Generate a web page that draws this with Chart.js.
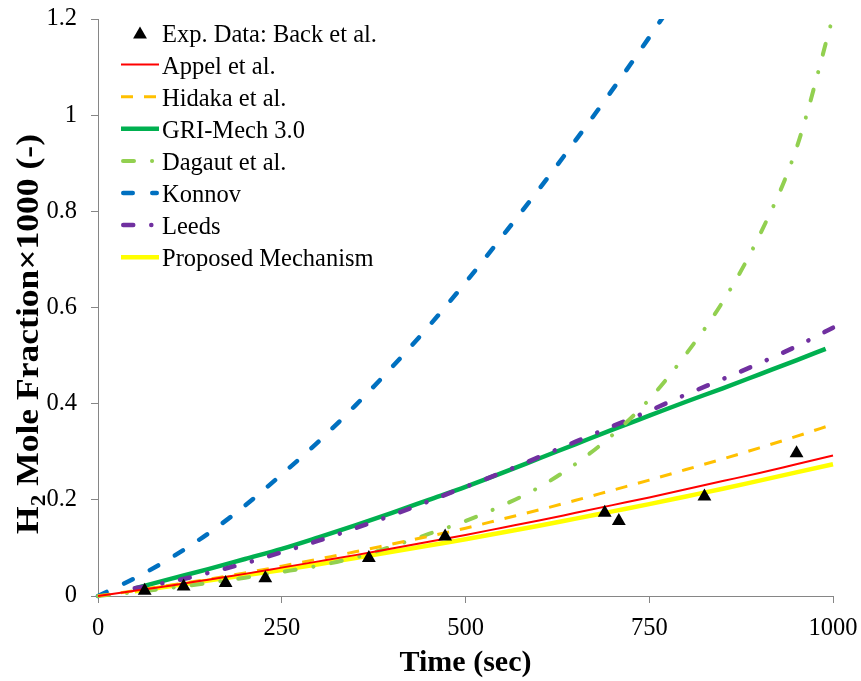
<!DOCTYPE html>
<html>
<head>
<meta charset="utf-8">
<script src="https://cdn.jsdelivr.net/npm/chart.js@4.4.0/dist/chart.umd.min.js"></script>
<style>
  html, body { margin: 0; padding: 0; background: #fff; }
  #wrap { width: 861px; height: 681px; }
</style>
</head>
<body>
<div id="wrap"><canvas id="chart" width="861" height="681"></canvas></div>
<script>
// Datos (tiempo en s, fracción molar de H2 x1000)
const timeSec = [0, 50, 100, 150, 200, 250, 300, 350, 400, 450, 500, 550, 600, 650, 700, 750, 800, 850, 900, 950, 1000];
const griTime = [50, 100, 150, 200, 250, 300, 350, 400, 450, 500, 550, 600, 650, 700, 750, 800, 850, 900, 950, 990];

const expTime = [63.5, 116.5, 173.6, 227.6, 368.5, 472.3, 689.4, 708.6, 825.1, 950.4];
const expH2 = [0.011, 0.020, 0.027, 0.037, 0.079, 0.124, 0.173, 0.156, 0.207, 0.297];

const appel = [0, 0.011, 0.022, 0.034, 0.046, 0.059, 0.072, 0.085, 0.099, 0.113, 0.127, 0.142, 0.157, 0.173, 0.189, 0.205, 0.222, 0.239, 0.256, 0.274, 0.292];
const hidaka = [0, 0.011, 0.023, 0.035, 0.048, 0.062, 0.077, 0.092, 0.108, 0.124, 0.141, 0.160, 0.179, 0.199, 0.220, 0.241, 0.263, 0.285, 0.308, 0.332, 0.357];
const gri = [0.016, 0.036, 0.056, 0.077, 0.098, 0.122, 0.147, 0.173, 0.200, 0.227, 0.256, 0.286, 0.316, 0.346, 0.375, 0.404, 0.432, 0.461, 0.490, 0.514];
const dagaut = [0, 0.008, 0.017, 0.027, 0.038, 0.050, 0.063, 0.080, 0.103, 0.129, 0.156, 0.188, 0.226, 0.275, 0.335, 0.409, 0.503, 0.612, 0.750, 0.930, 1.205];
const konnov = [0, 0.037, 0.080, 0.130, 0.188, 0.253, 0.321, 0.396, 0.476, 0.561, 0.652, 0.748, 0.846, 0.948, 1.053, 1.162, 1.275, null, null, null, null];
const leeds = [null, 0.016, 0.030, 0.048, 0.068, 0.091, 0.115, 0.141, 0.168, 0.197, 0.227, 0.257, 0.289, 0.321, 0.353, 0.385, 0.419, 0.451, 0.484, 0.519, 0.558];
const proposed = [null, 0.010, 0.021, 0.032, 0.043, 0.054, 0.066, 0.079, 0.092, 0.105, 0.118, 0.132, 0.146, 0.161, 0.176, 0.191, 0.207, 0.223, 0.240, 0.257, 0.274];

const xTicks = [0, 250, 500, 750, 1000];
const yTicks = [0, 0.2, 0.4, 0.6, 0.8, 1, 1.2];

const FONT = '"Liberation Serif", "Times New Roman", serif';
const AXIS_COLOR = '#868686';

// Convierte dos listas en puntos {x, y}
function toPoints(xs, ys) {
    return xs.map((x, i) => ({ x: x, y: ys[i] }));
}

function curve(label, xs, ys, color, width, dash, order) {
    return {
        label: label,
        data: toPoints(xs, ys),
        showLine: true,
        borderColor: color,
        backgroundColor: color,
        borderWidth: width,
        borderDash: dash,
        borderCapStyle: dash.length ? 'round' : 'butt',
        pointRadius: 0,
        cubicInterpolationMode: 'monotone',
        clip: { left: 5, right: 5, top: 0, bottom: 5 },
        order: order
    };
}

const datasets = [
    {
        label: 'Exp. Data: Back et al.',
        data: toPoints(expTime, expH2),
        showLine: false,
        pointStyle: 'triangle',
        pointRadius: 8,
        backgroundColor: '#000',
        borderColor: '#000',
        borderWidth: 0,
        order: 0
    },
    curve('Appel et al.', timeSec, appel, '#FF0000', 2, [], 1),
    Object.assign(curve('Hidaka et al.', timeSec, hidaka, '#FFC000', 3, [12, 11], 2), { borderCapStyle: 'butt' }),
    curve('GRI-Mech 3.0', griTime, gri, '#00B050', 4.5, [], 5),
    curve('Dagaut et al.', timeSec, dagaut, '#92D050', 4, [11, 18, 0.1, 18], 3),
    curve('Konnov', timeSec, konnov, '#0070C0', 4.5, [9.5, 19.5], 6),
    curve('Leeds', timeSec, leeds, '#7030A0', 4.5, [10, 18, 0.1, 18], 4),
    curve('Proposed Mechanism', timeSec, proposed, '#FFFF00', 4.5, [], 7)
];

// Leyenda dentro del área del gráfico
const legendInside = {
    id: 'legendInside',
    afterDraw(chart) {
        const ctx = chart.ctx;
        ctx.save();
        chart.data.datasets.forEach((ds, i) => {
            const y = 32.5 + i * 32.1;
            if (ds.showLine === false) {
                const r = 8, cx = 140, cy = y + 2;
                ctx.fillStyle = ds.backgroundColor;
                ctx.beginPath();
                ctx.moveTo(cx, cy - r);
                ctx.lineTo(cx + 0.866 * r, cy + 0.5 * r);
                ctx.lineTo(cx - 0.866 * r, cy + 0.5 * r);
                ctx.closePath();
                ctx.fill();
            } else {
                const cap = ds.borderCapStyle === 'round' ? ds.borderWidth / 2 : 0;
                ctx.strokeStyle = ds.borderColor;
                ctx.lineWidth = ds.borderWidth;
                ctx.lineCap = ds.borderCapStyle;
                ctx.setLineDash(ds.borderDash);
                ctx.beginPath();
                ctx.moveTo(121 + cap, y);
                ctx.lineTo(159 - cap, y);
                ctx.stroke();
                ctx.setLineDash([]);
            }
            ctx.fillStyle = '#000';
            ctx.font = '24.5px ' + FONT;
            ctx.textAlign = 'left';
            ctx.textBaseline = 'alphabetic';
            ctx.fillText(ds.label, 162, y + 9);
        });
        ctx.restore();
    }
};

// Título del eje Y con subíndice
const yTitle = {
    id: 'yTitle',
    afterDraw(chart) {
        const ctx = chart.ctx;
        ctx.save();
        const big = 'bold 32px ' + FONT;
        const small = 'bold 21px ' + FONT;
        const rest = ' Mole Fraction×1000 (-)';
        ctx.font = big;
        const wH = ctx.measureText('H').width;
        const wRest = ctx.measureText(rest).width;
        ctx.font = small;
        const w2 = ctx.measureText('2').width;
        const total = wH + w2 + wRest;
        const sx = 400 / total;
        ctx.translate(38, 334);
        ctx.rotate(-Math.PI / 2);
        ctx.scale(sx, 1);
        ctx.fillStyle = '#000';
        ctx.textBaseline = 'alphabetic';
        ctx.textAlign = 'left';
        let x = -total / 2;
        ctx.font = big;
        ctx.fillText('H', x, 0);
        x += wH;
        ctx.font = small;
        ctx.fillText('2', x, 7);
        x += w2;
        ctx.font = big;
        ctx.fillText(rest, x, 0);
        ctx.restore();
    }
};

const ctx = document.getElementById('chart').getContext('2d');
const chart = new Chart(ctx, {
    type: 'scatter',
    data: { datasets: datasets },
    options: {
        responsive: false,
        animation: false,
        devicePixelRatio: 1,
        layout: { padding: { top: 19, right: 28, left: 0, bottom: 0 } },
        plugins: {
            legend: { display: false },
            tooltip: { enabled: false }
        },
        scales: {
            x: {
                type: 'linear',
                min: 0,
                max: 1000,
                afterBuildTicks: s => { s.ticks = xTicks.map(v => ({ value: v })); },
                afterFit: s => { s.height = 85; s.paddingLeft = 0; s.paddingRight = 0; },
                grid: { drawOnChartArea: false, drawTicks: true, tickLength: 7, color: AXIS_COLOR },
                border: { color: AXIS_COLOR, width: 1 },
                ticks: {
                    color: '#000',
                    font: { family: FONT, size: 24.5 },
                    padding: 11,
                    maxRotation: 0,
                    callback: v => String(v)
                },
                title: {
                    display: true,
                    text: 'Time (sec)',
                    color: '#000',
                    font: { family: FONT, size: 30, weight: 'bold' },
                    padding: { top: 0, bottom: 0 }
                }
            },
            y: {
                type: 'linear',
                min: 0,
                max: 1.2,
                afterBuildTicks: s => { s.ticks = yTicks.map(v => ({ value: v })); },
                afterFit: s => { s.width = 98; s.paddingTop = 0; s.paddingBottom = 0; },
                grid: { drawOnChartArea: false, drawTicks: true, tickLength: 7, color: AXIS_COLOR },
                border: { color: AXIS_COLOR, width: 1 },
                ticks: {
                    color: '#000',
                    font: { family: FONT, size: 24.5 },
                    padding: 14,
                    callback: v => String(Math.round(v * 10) / 10)
                }
            }
        }
    },
    plugins: [legendInside, yTitle]
});
</script>
</body>
</html>
